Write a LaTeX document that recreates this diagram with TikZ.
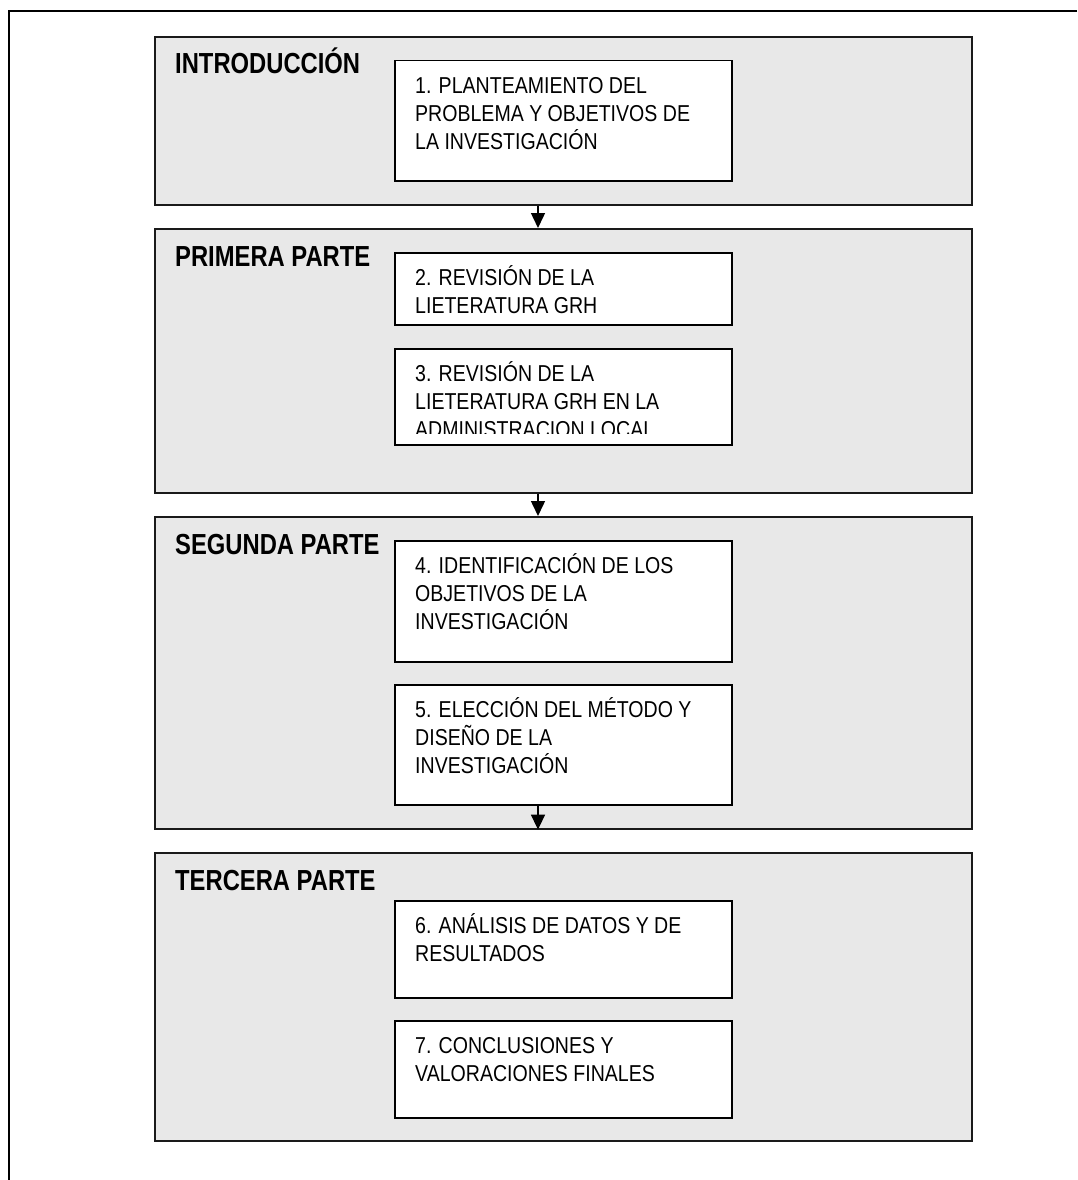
\documentclass[tikz,border=0pt]{standalone}
\usepackage{fontspec}
\setmainfont{Liberation Sans}
\newfontfamily\headfont[FakeStretch=0.82]{Liberation Sans}
\newfontfamily\bodyfont[FakeStretch=0.85]{Liberation Sans}
\usetikzlibrary{arrows.meta}
\definecolor{partfill}{HTML}{E8E8E8}
\definecolor{edge}{HTML}{1A1A1A}
\newcommand{\boxlines}[1]{\parbox[t]{320pt}{\raggedright\bodyfont\fontsize{23}{28}\selectfont #1}}
\begin{document}
\begin{tikzpicture}[x=1pt,y=-1pt,
  partbox/.style={draw=edge,line width=1.6pt,fill=partfill,inner sep=0pt,anchor=north west,
    minimum width=817pt},
  stepbox/.style={draw=black,line width=1.5pt,fill=white,inner sep=0pt,anchor=north west,
    minimum width=337pt},
  parttitle/.style={anchor=base west,inner sep=0pt,font=\headfont\bfseries\fontsize{29}{34}\selectfont},
  steptext/.style={anchor=base west,inner sep=0pt},
  flow/.style={draw=black,line width=1.5pt,-{Triangle[length=15pt,width=14pt]}}]
\useasboundingbox (0,0) rectangle (1077,1180);

% page frame (top and left edges)
\draw[line width=1.5pt] (1077,11) -- (9,11) -- (9,1180);

% the four parts
\node[partbox,minimum height=168pt] (intro) at (154,36) {};
\node[partbox,minimum height=264pt] (p1) at (154,228) {};
\node[partbox,minimum height=312pt] (p2) at (154,516) {};
\node[partbox,minimum height=288pt] (p3) at (154,852) {};

\node[parttitle] (tintro) at (175,74) {INTRODUCCIÓN};
\node[parttitle] (tp1) at (175,266) {PRIMERA PARTE};
\node[parttitle] (tp2) at (175,554) {SEGUNDA PARTE};
\node[parttitle] (tp3) at (175,890) {TERCERA PARTE};

% the seven steps
\node[stepbox,minimum height=120pt] (s1) at (394,60) {};
\node[stepbox,minimum height=72pt]  (s2) at (394,252) {};
\node[stepbox,minimum height=96pt]  (s3) at (394,348) {};
\node[stepbox,minimum height=121pt] (s4) at (394,540) {};
\node[stepbox,minimum height=120pt] (s5) at (394,684) {};
\node[stepbox,minimum height=97pt]  (s6) at (394,900) {};
\node[stepbox,minimum height=97pt]  (s7) at (394,1020) {};

\node[steptext] (t1) at (415,93.5) {\boxlines{1. PLANTEAMIENTO DEL\\PROBLEMA Y OBJETIVOS DE\\LA INVESTIGACIÓN}};
\node[steptext] (t2) at (415,285.5) {\boxlines{2. REVISIÓN DE LA\\LIETERATURA GRH}};
\begin{scope}
  \clip (394,348) rectangle (731,433);
  \node[steptext] (t3) at (415,381.5) {\boxlines{3. REVISIÓN DE LA\\LIETERATURA GRH EN LA\\ADMINISTRACION LOCAL}};
\end{scope}
\node[steptext] (t4) at (415,573.5) {\boxlines{4. IDENTIFICACIÓN DE LOS\\OBJETIVOS DE LA\\INVESTIGACIÓN}};
\node[steptext] (t5) at (415,717.5) {\boxlines{5. ELECCIÓN DEL MÉTODO Y\\DISEÑO DE LA\\INVESTIGACIÓN}};
\node[steptext] (t6) at (415,933.5) {\boxlines{6. ANÁLISIS DE DATOS Y DE\\RESULTADOS}};
\node[steptext] (t7) at (415,1053.5) {\boxlines{7. CONCLUSIONES Y\\VALORACIONES FINALES}};

% flow between parts
\coordinate (ax) at (538,0);
\draw[flow] (intro.south -| ax) -- (p1.north -| ax);
\draw[flow] (p1.south -| ax) -- (p2.north -| ax);
\draw[flow] (s5.south -| ax) -- (p2.south -| ax);
\end{tikzpicture}
\end{document}
